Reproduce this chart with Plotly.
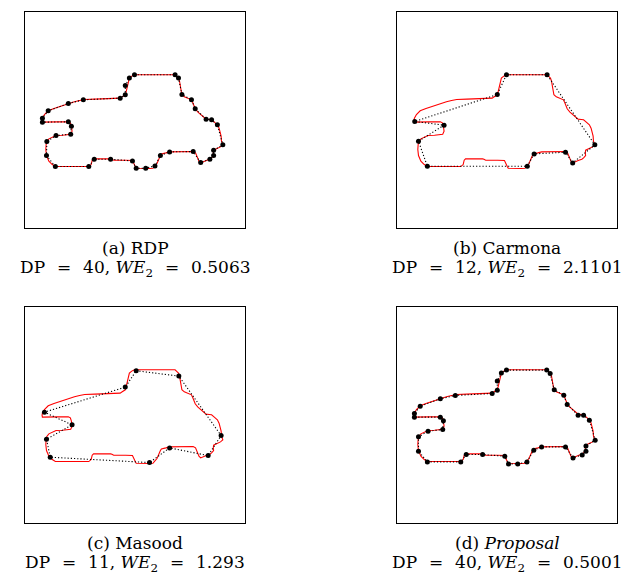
import plotly.graph_objects as go

# Original contour (red), in panel-local coordinates (x right, y down)
contour_x = [326, 445, 452, 455, 458, 460, 462, 465, 472, 485, 493, 497, 500, 504, 512, 522, 530, 536, 545, 552,
             560, 569, 574, 578, 580, 581, 585, 578, 565, 558, 557, 558, 552, 547, 538, 528, 520, 515, 510, 505,
             498, 470, 450, 429, 418, 405, 402, 398, 392, 386, 380, 370, 359, 345, 331, 328, 324, 320, 300, 265,
             260, 256, 235, 206, 202, 199, 192, 150, 120, 94, 85, 75, 68, 66, 67, 69, 75, 85, 96, 115,
             130, 139, 143, 143, 141, 138, 132, 100, 75, 56, 55, 56, 62, 73, 90, 110, 132, 150, 165, 176,
             180, 210, 245, 258, 270, 284, 290, 299, 302, 304, 305, 308, 311, 318, 326]
contour_y = [196, 196, 203, 206, 215, 230, 245, 256, 262, 268, 271, 280, 290, 298, 308, 318, 325, 329, 330, 331,
             338, 346, 356, 368, 380, 395, 406, 412, 418, 422, 430, 438, 445, 449, 452, 456, 460, 455, 445, 430,
             426, 427, 427, 427, 430, 433, 438, 448, 462, 469, 476, 477, 477, 477, 476, 470, 460, 453, 452, 452,
             449, 448, 448, 448, 452, 465, 471, 471, 471, 471, 465, 455, 438, 420, 405, 396, 388, 383, 378, 377,
             375, 374, 365, 355, 350, 340, 337, 337, 337, 338, 332, 326, 315, 304, 297, 290, 282, 277, 273, 271,
             270, 269, 268, 266, 266, 266, 262, 256, 245, 235, 228, 215, 206, 200, 196]

# (a) RDP dominant points
rdp_x = [326, 445, 455, 465, 493, 504, 536, 552, 569, 585, 558, 558, 547, 520, 498, 429, 402, 386, 359, 331,
         320, 256, 208, 192, 94, 68, 69, 96, 139, 141, 132, 56, 56, 73, 132, 176, 284, 299, 299, 311]
rdp_y = [196, 196, 206, 255, 271, 298, 329, 331, 346, 406, 422, 438, 449, 459, 426, 427, 438, 469, 476, 476,
         454, 449, 449, 471, 471, 438, 396, 378, 374, 350, 337, 338, 326, 304, 282, 271, 266, 256, 228, 206]

# (b) Carmona dominant points
carmona_x = [326, 445, 585, 520, 499, 407, 387, 94, 68, 143, 57, 299]
carmona_y = [196, 196, 406, 460, 428, 433, 470, 470, 395, 347, 336, 255]

# (c) Masood dominant points
masood_x = [331, 456, 580, 542, 429, 370, 79, 68, 143, 62, 299]
masood_y = [199, 215, 393, 453, 430, 474, 458, 404, 361, 323, 248]

# (d) Proposal dominant points
proposal_x = [326, 444, 454, 466, 494, 504, 536, 552, 569, 586, 559, 559, 548, 521, 499, 429, 406, 386, 359, 332,
              321, 256, 208, 192, 94, 68, 68, 96, 139, 141, 132, 56, 56, 73, 132, 176, 284, 299, 299, 311]
proposal_y = [197, 197, 207, 256, 272, 300, 332, 332, 347, 407, 424, 440, 451, 460, 427, 427, 437, 472, 478, 478,
              455, 450, 450, 472, 472, 440, 397, 380, 375, 349, 338, 338, 327, 305, 283, 273, 267, 257, 230, 206]

EQ = "&#8194;&#8201;=&#8194;&#8201;"
captions_1 = ["(a) RDP", "(b) Carmona", "(c) Masood", "(d) <i>Proposal</i>"]
captions_2 = ["DP" + EQ + "40, <i>WE</i><sub>2</sub>" + EQ + "0.5063",
              "DP" + EQ + "12, <i>WE</i><sub>2</sub>" + EQ + "2.1101",
              "DP" + EQ + "11, <i>WE</i><sub>2</sub>" + EQ + "1.293",
              "DP" + EQ + "40, <i>WE</i><sub>2</sub>" + EQ + "0.5001"]

OFF = 8  # page body margin
W, H = 631 - OFF, 588 - OFF
panels = [  # left, right, top, bottom in page pixels
    (25, 245, 12, 228),
    (397, 617, 12, 228),
    (25, 245, 307, 523),
    (397, 617, 307, 523),
]
point_sets = [(rdp_x, rdp_y), (carmona_x, carmona_y), (masood_x, masood_y), (proposal_x, proposal_y)]

fig = go.Figure()
layout = dict(width=W, height=H, margin=dict(l=0, r=0, t=0, b=0), showlegend=False,
              plot_bgcolor="white", paper_bgcolor="white")
annotations = []
for i, ((l, r, t, b), (px, py)) in enumerate(zip(panels, point_sets)):
    l, r, t, b = l - OFF, r - OFF, t - OFF, b - OFF
    n = "" if i == 0 else str(i + 1)
    xa, ya = "x" + n, "y" + n
    fig.add_trace(go.Scatter(x=contour_x + [contour_x[0]], y=contour_y + [contour_y[0]], mode="lines",
                             line=dict(color="#ff0000", width=1.1), xaxis=xa, yaxis=ya, hoverinfo="skip"))
    fig.add_trace(go.Scatter(x=px + [px[0]], y=py + [py[0]], mode="lines",
                             line=dict(color="black", width=1.1, dash="1.2px,2px"), xaxis=xa, yaxis=ya,
                             hoverinfo="skip"))
    fig.add_trace(go.Scatter(x=px, y=py, mode="markers", marker=dict(color="black", size=5),
                             xaxis=xa, yaxis=ya))
    axcommon = dict(showticklabels=False, showgrid=False, zeroline=False, ticks="",
                    showline=True, mirror=True, linecolor="black", linewidth=1)
    layout["xaxis" + n] = dict(domain=[l / W, r / W], range=[5, 650], anchor=ya, **axcommon)
    layout["yaxis" + n] = dict(domain=[1 - b / H, 1 - t / H], range=[655, 8], anchor=xa, **axcommon)
    cx = (l + r) / 2 / W
    annotations.append(dict(x=cx, y=1 - (b + 20) / H, xref="paper", yref="paper", text=captions_1[i],
                            showarrow=False, xanchor="center", yanchor="middle",
                            font=dict(family="DejaVu Serif", size=17, color="black")))
    annotations.append(dict(x=cx, y=1 - (b + 40) / H, xref="paper", yref="paper", text=captions_2[i],
                            showarrow=False, xanchor="center", yanchor="middle",
                            font=dict(family="DejaVu Serif", size=17, color="black")))
layout["annotations"] = annotations
fig.update_layout(**layout)
fig.write_html("out.html")
